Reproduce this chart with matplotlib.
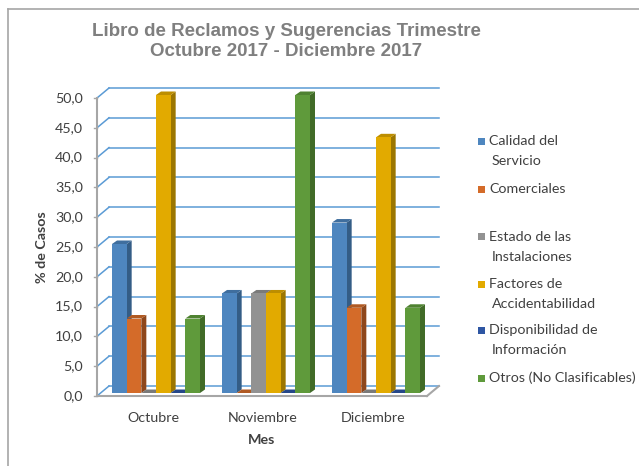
import numpy as np
import matplotlib.pyplot as plt
from matplotlib.patches import Polygon, Rectangle

meses = ['Octubre', 'Noviembre', 'Diciembre']
series = ['Calidad del\nServicio', 'Comerciales', 'Estado de las\nInstalaciones',
          'Factores de\nAccidentabilidad', 'Disponibilidad de\nInformación',
          'Otros (No Clasificables)']
calidad = [25.0, 16.7, 28.6]
comerciales = [12.5, 0.0, 14.3]
estado = [0.0, 16.7, 0.0]
factores = [50.0, 16.7, 42.9]
disponibilidad = [0.0, 0.0, 0.0]
otros = [12.5, 50.0, 14.3]
valores = [calidad, comerciales, estado, factores, disponibilidad, otros]
yticks = np.arange(0, 50.1, 5)

frente = ['#4E86BF', '#D46B29', '#929292', '#E2AA00', '#2E56A3', '#5F9A3B']
lado = ['#345D86', '#8E471C', '#666666', '#9C7600', '#1F3C72', '#416B28']
tapa = ['#3F6E9E', '#B05A23', '#7A7A7A', '#BD8E00', '#26488A', '#4F8231']
grid_c = '#5B9BD5'
eje_c = '#A6A6A6'
texto_c = '#404040'

W, H = 639, 466
fig = plt.figure(figsize=(W / 100, H / 100), dpi=100)
ax = fig.add_axes([97 / W, 70 / H, 330 / W, 298 / H])
ax.set_xlim(0, 3)
ax.set_ylim(0, 50)
ax.axis('off')

# px -> unidades de datos
px_x = 330 / 3
px_y = 298 / 50
def dx(p):
    return p / px_x
def dy(p):
    return p / px_y

# pared del fondo + diagonales de la pared izquierda
bx, by = dx(12), dy(10)
for t in yticks:
    ax.plot([bx, 3 + bx], [t + by, t + by], color=grid_c, lw=1.1, clip_on=False, zorder=1)
    ax.plot([0, bx], [t, t + by], color=grid_c, lw=1.1, clip_on=False, zorder=1)
    ax.plot([-dx(3), 0], [t, t], color=eje_c, lw=1, clip_on=False, zorder=1)
    fig.text(83 / W, (70 + t * px_y) / H, f'{t:.1f}'.replace('.', ','), ha='right',
             va='center', fontsize=10.3, color=texto_c, family='Lato')

# bordes del piso y eje frontal
ax.plot([0, 3], [0, 0], color=eje_c, lw=1.5, clip_on=False, zorder=2)
ax.plot([3, 3 + bx], [0, by], color=eje_c, lw=1.5, clip_on=False, zorder=2)
ax.plot([0, 0], [0, 50], color=eje_c, lw=1.5, clip_on=False, zorder=2)

# barras con efecto 3d
ox, oy = dx(4), dy(3)
sx, sy = dx(5), dy(3.5)
bw = 0.8 / 6
z = 3
for i in range(3):
    for j, vals in enumerate(valores):
        v = vals[i]
        x0 = i + 0.1 + j * bw + ox
        x1 = x0 + bw
        y0 = oy
        y1 = oy + v
        ax.add_patch(Polygon([[x1, y0], [x1 + sx, y0 + sy], [x1 + sx, y1 + sy], [x1, y1]],
                             closed=True, facecolor=lado[j], edgecolor='none', zorder=z, clip_on=False))
        ax.add_patch(Polygon([[x0, y1], [x1, y1], [x1 + sx, y1 + sy], [x0 + sx, y1 + sy]],
                             closed=True, facecolor=tapa[j], edgecolor='none', zorder=z, clip_on=False))
        ax.add_patch(Rectangle((x0, y0), bw, v, facecolor=frente[j], edgecolor='none',
                               zorder=z + 0.5, clip_on=False))
        z += 1

for i, m in enumerate(meses):
    fig.text((97 + (i + 0.5) * px_x + 1) / W, 1 - 418 / H, m, ha='center', va='center',
             fontsize=10.3, color=texto_c, family='Lato')

fig.text(262 / W, 1 - 440 / H, 'Mes', ha='center', va='center', fontsize=10.3,
         fontweight='bold', color=texto_c, family='Lato')
fig.text(42 / W, 1 - 247 / H, '% de Casos', ha='center', va='center', rotation=90,
         fontsize=10.3, fontweight='bold', color=texto_c, family='Lato')

fig.text(286 / W, 1 - 32 / H, 'Libro de Reclamos y Sugerencias Trimestre', ha='center',
         va='center', fontsize=13.5, fontweight='bold', color='#7F7F7F', family='Liberation Sans')
fig.text(286 / W, 1 - 52 / H, 'Octubre 2017 - Diciembre 2017', ha='center',
         va='center', fontsize=13.5, fontweight='bold', color='#7F7F7F', family='Liberation Sans')

# leyenda
leg_y = [141, 189, 237, 284, 330, 378]
for j, s in enumerate(series):
    y = 1 - leg_y[j] / H
    fig.patches.append(Rectangle((478 / W, y - 3.5 / H), 7 / W, 7 / H, facecolor=frente[j],
                                 edgecolor='none', transform=fig.transFigure, figure=fig))
    for k, ln in enumerate(s.split('\n')):
        fig.text((489 + (3 if k else 0)) / W, y - k * 20 / H, ln, ha='left', va='center',
                 fontsize=10.3, color=texto_c, family='Lato')

# borde del grafico (arriba e izquierda)
fig.add_artist(plt.Line2D([8 / W, 8 / W], [0, 1 - 9 / H], color='#A6A6A6', lw=1.2,
                          transform=fig.transFigure))
fig.add_artist(plt.Line2D([8 / W, 1], [1 - 9 / H, 1 - 9 / H], color='#A6A6A6', lw=1.2,
                          transform=fig.transFigure))

fig.savefig('out.png', dpi=100)
